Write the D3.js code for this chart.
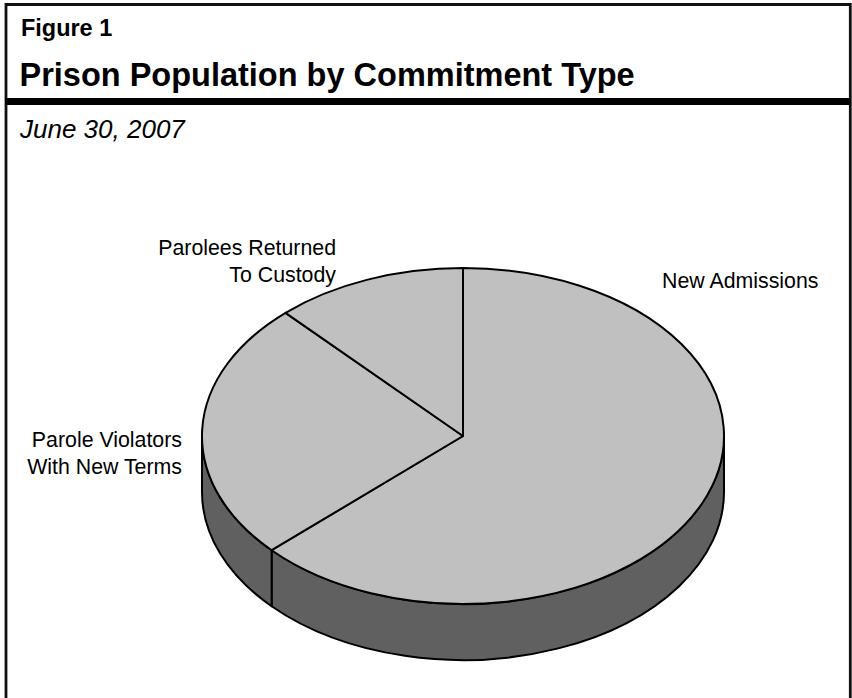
<!DOCTYPE html>
<html>
<head>
<meta charset="utf-8">
<script src="https://cdn.jsdelivr.net/npm/d3@7"></script>
<style>
  html, body { margin: 0; padding: 0; background: #fff; }
  svg { display: block; }
  text { font-family: "Liberation Sans", Arial, Helvetica, sans-serif; fill: #000; }
</style>
</head>
<body>
<div id="chart"></div>
<script>
// Commitment types, drawn clockwise from 12 o'clock
const categories = ["New Admissions", "Parole Violators With New Terms", "Parolees Returned To Custody"];
// Share of the prison population (percent)
const shares = [63.1, 25.0, 11.9];
// Label lines for each slice
const labelLines = [
  ["New Admissions"],
  ["Parole Violators", "With New Terms"],
  ["Parolees Returned", "To Custody"]
];

const figureLabel = "Figure 1";
const titleText = "Prison Population by Commitment Type";
const subtitleText = "June 30, 2007";

const W = 852, H = 698;
const svg = d3.select("#chart").append("svg")
  .attr("width", W).attr("height", H);

// Frame
svg.append("path")
  .attr("d", `M6,${H + 10} L6,4.5 L850.3,4.5 L850.3,${H + 10}`)
  .attr("fill", "none").attr("stroke", "#111").attr("stroke-width", 2.8);
svg.append("line")
  .attr("x1", 5).attr("x2", 851).attr("y1", 101.5).attr("y2", 101.5)
  .attr("stroke", "#000").attr("stroke-width", 7);

function putText(str, x, y, size, opts = {}) {
  const sx = opts.sx || 1;
  return svg.append("text")
    .attr("transform", `translate(${x},${y}) scale(${sx},1)`)
    .attr("font-size", size)
    .attr("font-weight", opts.weight || "normal")
    .attr("font-style", opts.style || "normal")
    .attr("text-anchor", opts.anchor || "start")
    .text(str);
}

putText(figureLabel, 21, 36, 23, { weight: "bold", sx: 1.02 });
putText(titleText, 19.5, 86, 33, { weight: "bold", sx: 0.985 });
putText(subtitleText, 20, 138, 26, { style: "italic", sx: 1.0 });

// 3-D pie geometry
const cx = 463, cy = 436, rx = 261, ry = 168, depth = 56;
const topFill = "#c0c0c0", sideFill = "#606060";

const pie = d3.pie().sort(null).value(d => d.value)
  .startAngle(0).endAngle(2 * Math.PI);
const arcs = pie(categories.map((c, i) => ({ name: c, value: shares[i] })));

// point on the rim for an angle measured clockwise from 12 o'clock
const px = a => cx + rx * Math.sin(a);
const py = (a, dy = 0) => cy - ry * Math.cos(a) + dy;

// Front walls: only the part of each slice between 3 and 9 o'clock is visible
const walls = svg.append("g");
arcs.forEach(d => {
  const a0 = Math.max(d.startAngle, Math.PI / 2);
  const a1 = Math.min(d.endAngle, 3 * Math.PI / 2);
  if (a1 <= a0) return;
  const large = (a1 - a0) > Math.PI ? 1 : 0;
  const dWall = `M${px(a0)},${py(a0)} A${rx},${ry} 0 ${large} 1 ${px(a1)},${py(a1)}` +
    ` L${px(a1)},${py(a1, depth)}` +
    ` A${rx},${ry} 0 ${large} 0 ${px(a0)},${py(a0, depth)} Z`;
  walls.append("path")
    .attr("d", dWall)
    .attr("fill", sideFill)
    .attr("stroke", "#000")
    .attr("stroke-width", 2)
    .attr("stroke-linejoin", "round");
});

// Top faces
const tops = svg.append("g");
arcs.forEach(d => {
  const a0 = d.startAngle, a1 = d.endAngle;
  const large = (a1 - a0) > Math.PI ? 1 : 0;
  tops.append("path")
    .attr("d", `M${cx},${cy} L${px(a0)},${py(a0)} A${rx},${ry} 0 ${large} 1 ${px(a1)},${py(a1)} Z`)
    .attr("fill", topFill)
    .attr("stroke", "#000")
    .attr("stroke-width", 2)
    .attr("stroke-linejoin", "round");
});

// Slice labels
const labelSize = 22, lineGap = 26.5;
const labelPos = [
  { x: 662, y: 288, anchor: "start" },
  { x: 182, y: 447, anchor: "end" },
  { x: 336, y: 255, anchor: "end" }
];
labelLines.forEach((lines, i) => {
  lines.forEach((ln, j) => {
    putText(ln, labelPos[i].x, labelPos[i].y + j * lineGap, labelSize,
      { anchor: labelPos[i].anchor, sx: 0.97 });
  });
});
</script>
</body>
</html>
